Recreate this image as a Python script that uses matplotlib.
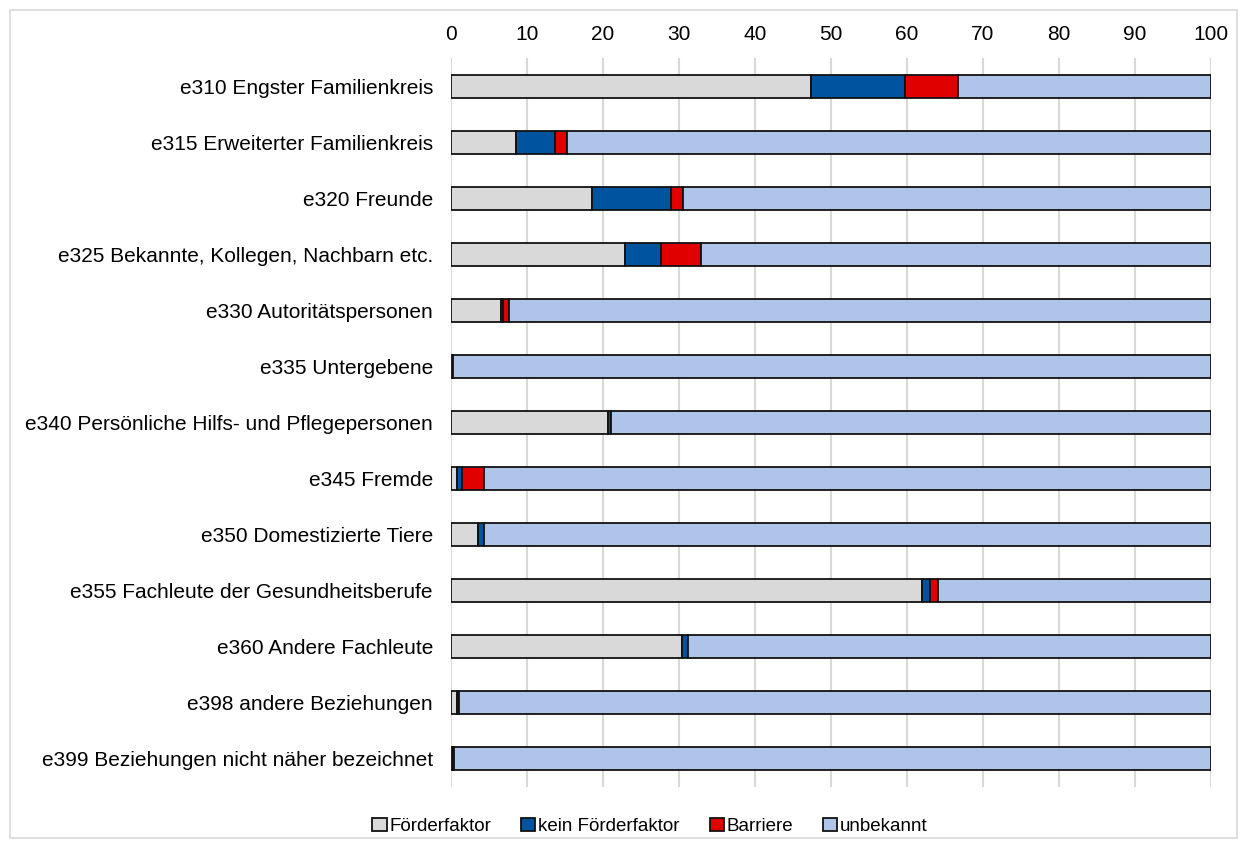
import numpy as np
import matplotlib.pyplot as plt
from matplotlib.patches import Rectangle

# Daten (Prozent je Kategorie)
kategorien = [
    "e310 Engster Familienkreis",
    "e315 Erweiterter Familienkreis",
    "e320 Freunde",
    "e325 Bekannte, Kollegen, Nachbarn etc.",
    "e330 Autoritätspersonen",
    "e335 Untergebene",
    "e340 Persönliche Hilfs- und Pflegepersonen",
    "e345 Fremde",
    "e350 Domestizierte Tiere",
    "e355 Fachleute der Gesundheitsberufe",
    "e360 Andere Fachleute",
    "e398 andere Beziehungen",
    "e399 Beziehungen nicht näher bezeichnet",
]
foerderfaktor = [47.4, 8.6, 18.6, 22.9, 6.6, 0.2, 20.7, 0.75, 3.6, 62.0, 30.4, 0.8, 0.3]
kein_foerder = [12.4, 5.1, 10.3, 4.7, 0.3, 0.1, 0.3, 0.75, 0.7, 1.0, 0.8, 0.3, 0.1]
barriere = [6.9, 1.6, 1.6, 5.3, 0.7, 0.0, 0.0, 2.9, 0.0, 1.1, 0.0, 0.0, 0.0]
unbekannt = [100 - a - b - c for a, b, c in zip(foerderfaktor, kein_foerder, barriere)]

serien = ["Förderfaktor", "kein Förderfaktor", "Barriere", "unbekannt"]
farben = ["#d9d9d9", "#00539f", "#e00000", "#aec4e8"]

plt.rcParams['font.family'] = ['Liberation Sans', 'DejaVu Sans']

fig = plt.figure(figsize=(12.47, 8.48), dpi=100)
ax = fig.add_axes([451 / 1247, 1 - 787 / 848, 760 / 1247, 729 / 848])

# Rahmen um die ganze Grafik
fig.patches.append(Rectangle((10 / 1247, 10 / 848), 1227 / 1247, 828 / 848,
                             transform=fig.transFigure, fill=False,
                             edgecolor="#d9d9d9", linewidth=1.2))

y = np.arange(len(kategorien))
links = np.zeros(len(kategorien))
for werte, name, farbe in zip([foerderfaktor, kein_foerder, barriere, unbekannt], serien, farben):
    ax.barh(y, werte, left=links, height=0.41, color=farbe, edgecolor="#111111",
            linewidth=1.3, label=name, zorder=3)
    links += np.array(werte)

ax.set_xlim(0, 100)
ax.set_ylim(len(kategorien) - 0.5, -0.5)
ax.set_yticks(y)
ax.set_yticklabels(kategorien, fontsize=15)
ax.set_xticks(np.arange(0, 101, 10))
ax.xaxis.tick_top()
ax.tick_params(axis="x", labelsize=15, length=0, pad=10)
ax.tick_params(axis="y", length=0, pad=13)
ax.grid(axis="x", color="#d9d9d9", linewidth=1.5, zorder=0)
for s in ax.spines.values():
    s.set_visible(False)

ax.legend(loc="center", bbox_to_anchor=(0.5 + (650 - 831) / 760, -0.054),
          ncol=4, frameon=False, fontsize=13.5, handlelength=0.75, handleheight=0.75,
          handletextpad=0.15, columnspacing=1.6)

plt.savefig("out.png", dpi=100)
